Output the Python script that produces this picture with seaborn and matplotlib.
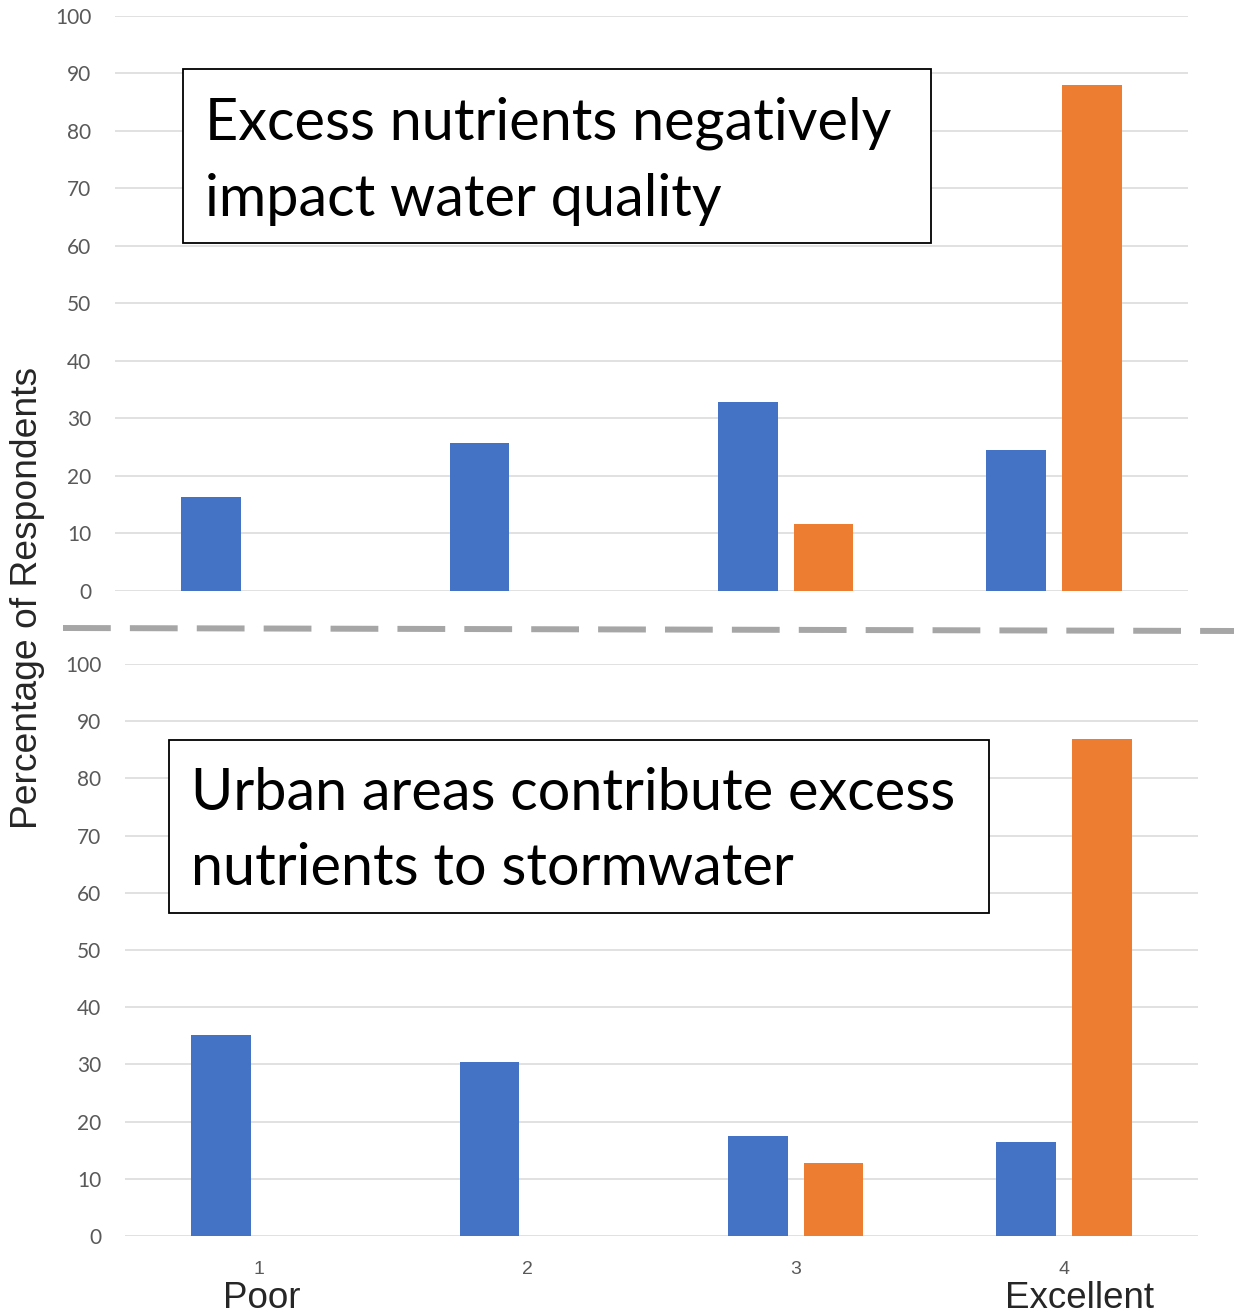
import numpy as np
import pandas as pd
import matplotlib
matplotlib.use('Agg')
import matplotlib.pyplot as plt
from matplotlib.lines import Line2D
from matplotlib.patches import Rectangle
import seaborn as sns

# ratings 1 (Poor) .. 4 (Excellent)
ratings = ['1', '2', '3', '4']
groups = ['Before', 'After']

# percentage of respondents, top statement
nutrients_before = [16.4, 25.8, 32.9, 24.6]
nutrients_after = [0.0, 0.0, 11.7, 88.0]

# percentage of respondents, bottom statement
urban_before = [35.2, 30.5, 17.5, 16.4]
urban_after = [0.0, 0.0, 12.8, 86.9]

top_title = ['Excess nutrients negatively', 'impact water quality']
bottom_title = ['Urban areas contribute excess', 'nutrients to stormwater']

BLUE = '#4472C4'
ORANGE = '#ED7D31'
GRID = '#d9d9d9'


def make_df(before, after):
    return pd.DataFrame({
        'rating': ratings * 2,
        'group': [groups[0]] * 4 + [groups[1]] * 4,
        'pct': before + after,
    })


sns.set_theme(style='white')
plt.rcParams['font.family'] = ['Lato', 'DejaVu Sans']

W, H = 1239, 1316
fig = plt.figure(figsize=(W / 100, H / 100), dpi=100)


def px_axes(left, top, right, bottom):
    return fig.add_axes([left / W, 1 - bottom / H, (right - left) / W, (bottom - top) / H])


ax1 = px_axes(115, 16, 1188, 591)
ax2 = px_axes(125, 664, 1198, 1236)

for ax, df in [(ax1, make_df(nutrients_before, nutrients_after)),
               (ax2, make_df(urban_before, urban_after))]:
    sns.barplot(data=df, x='rating', y='pct', hue='group', hue_order=groups,
                palette=[BLUE, ORANGE], saturation=1, width=0.564, gap=0.21,
                linewidth=0, errorbar=None, legend=False, ax=ax, zorder=3)
    ax.set_ylim(0, 100)
    ax.set_xlim(-0.5, 3.5)
    ax.set_yticks(np.arange(0, 101, 10))
    ax.yaxis.grid(True, color=GRID, linewidth=1.1, zorder=0)
    ax.set_axisbelow(True)
    for s in ax.spines.values():
        s.set_visible(False)
    ax.set_xlabel('')
    ax.set_ylabel('')
    ax.tick_params(axis='y', length=0, pad=17, labelsize=15, labelcolor='#595959')
    ax.tick_params(axis='x', length=0)

ax1.set_xticklabels([])
ax2.tick_params(axis='x', pad=18, labelsize=14, labelcolor='#595959')
for lab in ax2.get_xticklabels():
    lab.set_family(['Liberation Sans', 'DejaVu Sans'])

# axis-wide labels
fig.text(28 / W, 1 - 598 / H, 'Percentage of Respondents', rotation=90,
         ha='center', va='center', fontsize=26.8, family='Liberation Sans')
fig.text(262 / W, 1 - 1299 / H, 'Poor', ha='center', va='center',
         fontsize=26.5, family='Liberation Sans')
fig.text(1080 / W, 1 - 1299 / H, 'Excellent', ha='center', va='center',
         fontsize=26.5, family='Liberation Sans')

# dashed separator between the panels
fig.add_artist(Line2D([63 / W, 1234 / W], [1 - 628 / H, 1 - 631 / H],
                      color='#a6a6a6', linewidth=4.3, linestyle=(0, (8, 3.2)),
                      dash_capstyle='butt'))


def text_box(left, top, right, bottom, lines, baselines, tx):
    fig.add_artist(Rectangle((left / W, 1 - bottom / H), (right - left) / W,
                             (bottom - top) / H, transform=fig.transFigure,
                             facecolor='white', edgecolor='black', linewidth=1.3,
                             zorder=5))
    for line, b in zip(lines, baselines):
        fig.text(tx / W, 1 - b / H, line, ha='left', va='baseline',
                 fontsize=41.5, color='black', zorder=6)


text_box(183, 69, 931, 243, top_title, [139, 216], 205)
text_box(169, 740, 989, 913, bottom_title, [810, 885], 191)

fig.savefig('out.png', dpi=100)
